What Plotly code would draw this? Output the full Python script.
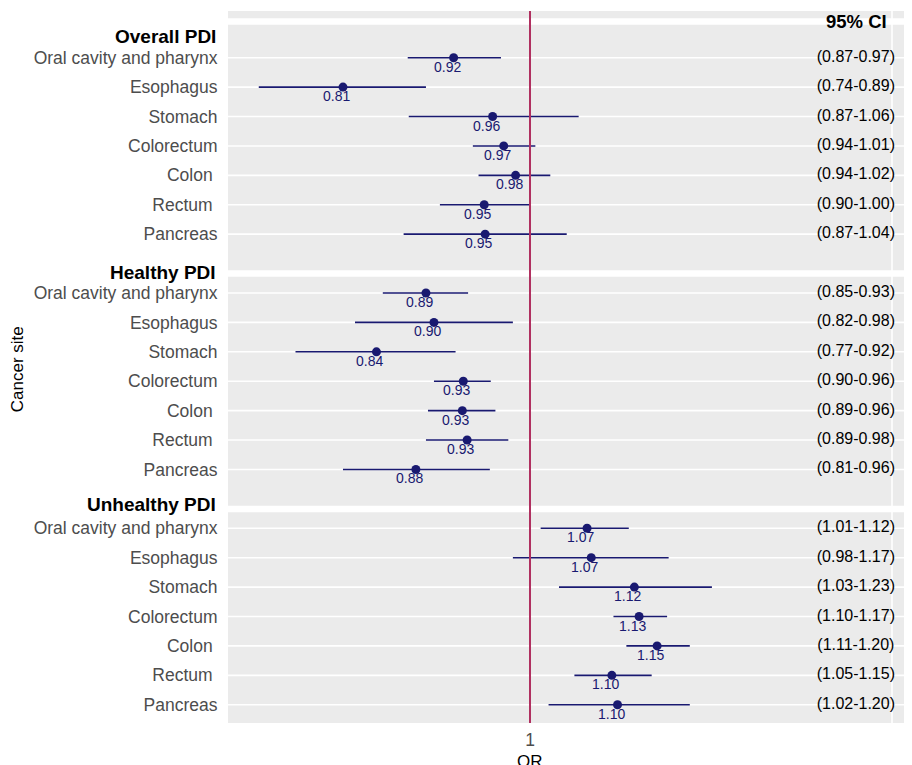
import plotly.graph_objects as go
import math

# ---------------- data ----------------
groups = ["Overall PDI", "Healthy PDI", "Unhealthy PDI"]
sites = ["Oral cavity and pharynx", "Esophagus", "Stomach", "Colorectum",
         "Colon\u00a0", "Rectum\u00a0", "Pancreas"]

overall_or = [0.918, 0.811, 0.959, 0.971, 0.984, 0.950, 0.951]
overall_lo = [0.872, 0.738, 0.873, 0.938, 0.944, 0.904, 0.868]
overall_hi = [0.968, 0.890, 1.056, 1.006, 1.023, 0.999, 1.042]

healthy_or = [0.890, 0.898, 0.842, 0.928, 0.927, 0.932, 0.880]
healthy_lo = [0.848, 0.822, 0.769, 0.898, 0.892, 0.890, 0.811]
healthy_hi = [0.933, 0.981, 0.920, 0.957, 0.962, 0.976, 0.956]

unhealthy_or = [1.066, 1.071, 1.124, 1.130, 1.153, 1.096, 1.103]
unhealthy_lo = [1.012, 0.981, 1.033, 1.098, 1.114, 1.051, 1.021]
unhealthy_hi = [1.117, 1.168, 1.226, 1.166, 1.196, 1.146, 1.196]

x_ticks = [1]
x_ticklabels = ["1"]
ci_header = "95% CI"

# ---------------- assemble ----------------
or_all = overall_or + healthy_or + unhealthy_or
lo_all = overall_lo + healthy_lo + unhealthy_lo
hi_all = overall_hi + healthy_hi + unhealthy_hi
rows = []
for g in range(len(groups)):
    for i in range(len(sites)):
        rows.append(g * 8 + i)
row_labels = sites * len(groups)
or_text = [f"{v:.2f}" for v in or_all]
ci_text = [f"({a:.2f}-{b:.2f})" for a, b in zip(lo_all, hi_all)]

NAVY = "#191970"
FONT = "Liberation Sans, Arial, sans-serif"

header_rows = [-0.721, 7.287, 15.199]
band_rows = [-1.231, 7.338, 15.345]
ci_x = 1.4405

fig = go.Figure()

# CI bars + points
fig.add_trace(go.Scatter(
    x=or_all, y=rows, mode="markers",
    marker=dict(color=NAVY, size=9),
    error_x=dict(type="data", symmetric=False,
                 array=[h - o for h, o in zip(hi_all, or_all)],
                 arrayminus=[o - l for o, l in zip(or_all, lo_all)],
                 color=NAVY, thickness=1.6, width=0),
    hoverinfo="skip", showlegend=False))

# CI text column
fig.add_trace(go.Scatter(
    x=[ci_x] * len(rows), y=rows, mode="text", text=ci_text,
    textposition="middle center",
    textfont=dict(family=FONT, size=16, color="black"),
    hoverinfo="skip", showlegend=False))

shapes = []
# thin horizontal gridlines at site rows
for r in rows:
    shapes.append(dict(type="line", xref="paper", x0=0, x1=1, yref="y", y0=r, y1=r,
                       line=dict(color="white", width=1.6), layer="below"))
# thick white bands
for b in band_rows:
    shapes.append(dict(type="line", xref="paper", x0=0, x1=1, yref="y", y0=b, y1=b,
                       line=dict(color="white", width=6.5), layer="below"))
# vertical white line at 1.5
shapes.append(dict(type="line", xref="x", x0=1.5, x1=1.5, yref="paper", y0=0, y1=1,
                   line=dict(color="white", width=1.6), layer="below"))
# reference line at OR = 1
shapes.append(dict(type="line", xref="x", x0=1, x1=1, yref="paper", y0=0, y1=1,
                   line=dict(color="#B03060", width=2), layer="above"))

annotations = []
for x, y, t in zip(or_all, rows, or_text):
    annotations.append(dict(x=math.log10(x), y=y, xref="x", yref="y", text=t,
                            showarrow=False, xshift=-6.5, yshift=-9,
                            xanchor="center", yanchor="middle",
                            font=dict(family=FONT, size=14, color=NAVY)))
for g, hr in zip(groups, header_rows):
    annotations.append(dict(x=-0.0146, y=hr, xref="paper", yref="y",
                            text=f"<b>{g}</b>", showarrow=False,
                            xanchor="right", yanchor="middle",
                            font=dict(family=FONT, size=19, color="black")))
annotations.append(dict(x=math.log10(1.4423), y=-1.248, xref="x", yref="y",
                        text=f"<b>{ci_header}</b>", showarrow=False,
                        xanchor="center", yanchor="middle",
                        font=dict(family=FONT, size=18.5, color="black")))
annotations.append(dict(x=(17.5 - 228) / 684, y=(723 - 369.7) / 712, xref="paper", yref="paper",
                        text="Cancer site", showarrow=False, textangle=-90,
                        xanchor="center", yanchor="middle",
                        font=dict(family=FONT, size=17, color="black")))
annotations.append(dict(x=(530 - 228) / 684, y=-(761 - 723) / 712, xref="paper", yref="paper",
                        text="OR", showarrow=False,
                        xanchor="center", yanchor="middle",
                        font=dict(family=FONT, size=17, color="black")))

# page body has an 8px offset; figure is sized so the plot area lands where the reference has it
fig.update_layout(
    width=904, height=757, autosize=False,
    margin=dict(l=220, r=0, t=3, b=42, pad=0),
    plot_bgcolor="#EBEBEB", paper_bgcolor="white",
    shapes=shapes, annotations=annotations,
    showlegend=False,
    xaxis=dict(type="log", range=[math.log10(0.713), math.log10(1.534)],
               tickvals=x_ticks, ticktext=x_ticklabels,
               showgrid=False, zeroline=False, showline=False,
               ticks="outside", ticklen=1, tickcolor="rgba(0,0,0,0)",
               tickfont=dict(family=FONT, size=17.5, color="#4D4D4D")),
    yaxis=dict(range=[22.621, -1.588], tickvals=rows, ticktext=row_labels,
               showgrid=False, zeroline=False, showline=False,
               ticks="outside", ticklen=6, tickcolor="rgba(0,0,0,0)",
               tickfont=dict(family=FONT, size=17.5, color="#4D4D4D")),
)

fig.write_html("out.html")
